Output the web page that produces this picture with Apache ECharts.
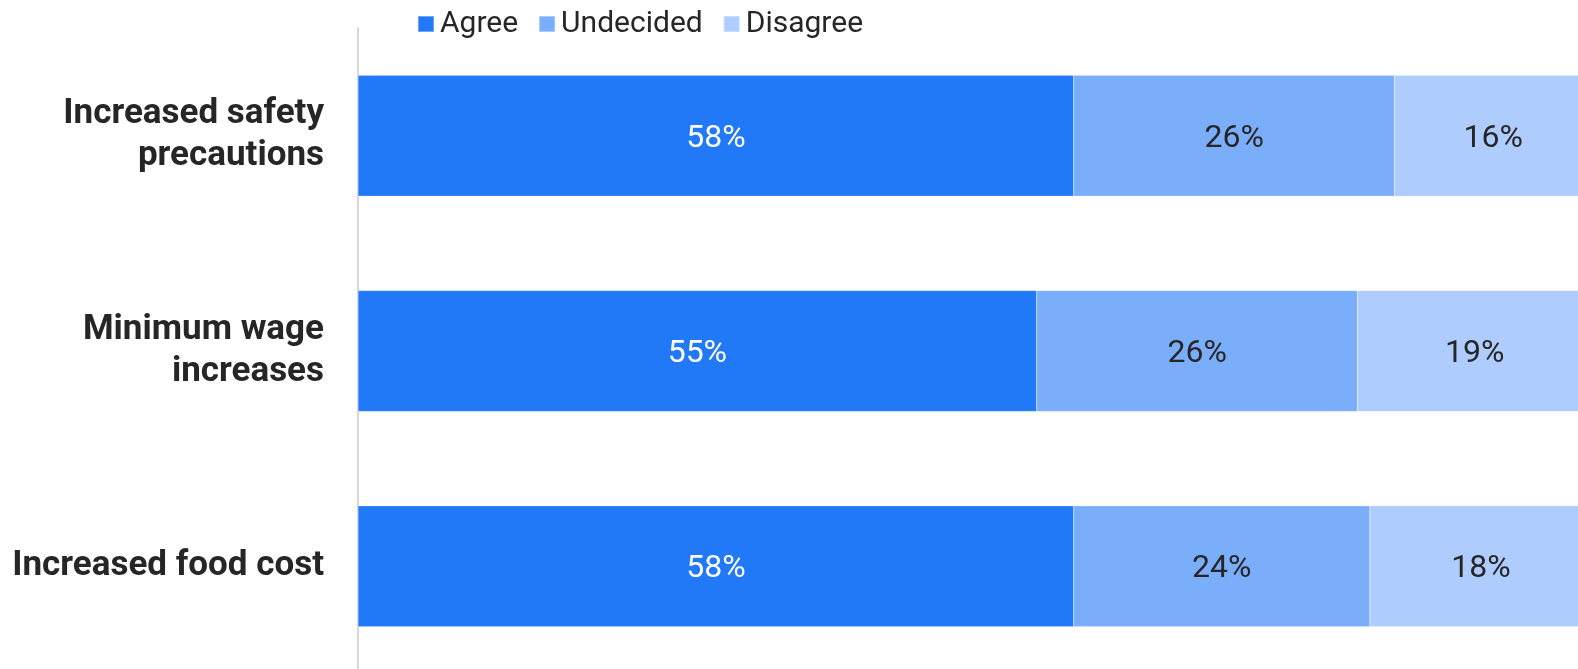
<!DOCTYPE html>
<html>
<head>
<meta charset="utf-8">
<script src="https://cdn.jsdelivr.net/npm/echarts@6/dist/echarts.min.js"></script>
<style>
  html, body { margin: 0; padding: 0; background: #ffffff; }
  #chart { width: 1578px; height: 669px; }
</style>
</head>
<body>
<div id="chart"></div>
<script>
// Survey responses per topic (percent)
const categories = ['Increased safety\nprecautions', 'Minimum wage\nincreases', 'Increased food cost'];
const seriesNames = ['Agree', 'Undecided', 'Disagree'];
const agree = [58, 55, 58];
const undecided = [26, 26, 24];
const disagree = [16, 19, 18];

const colors = ['#2179F8', '#7BAEFA', '#AECCFD'];
const labelColors = ['#ffffff', '#262626', '#262626'];
const values = [agree, undecided, disagree];
const fontFamily = 'Roboto, "Liberation Sans", Arial, sans-serif';

const chart = echarts.init(document.getElementById('chart'));
chart.setOption({
  animation: false,
  legend: {
    top: 4,
    left: 412,
    itemWidth: 16,
    itemHeight: 16,
    itemGap: 20,
    icon: 'rect',
    textStyle: { fontSize: 30, color: '#262626', fontFamily: fontFamily, padding: [0, 0, 0, 1] },
    data: seriesNames
  },
  // the 100% end of the scale runs slightly past the right edge of the canvas
  grid: { left: 358, width: 1234, top: 28, bottom: -5, containLabel: false, outerBoundsMode: 'none' },
  xAxis: {
    type: 'value',
    min: 0,
    max: 100,
    show: false
  },
  yAxis: {
    type: 'category',
    inverse: true,
    data: categories,
    axisLine: { show: true, lineStyle: { color: '#d9d9d9', width: 2 } },
    axisTick: { show: false },
    axisLabel: {
      margin: 34,
      fontSize: 35,
      fontWeight: 'bold',
      color: '#262626',
      lineHeight: 42,
      align: 'right',
      padding: [17, 0, 0, 0],
      fontFamily: fontFamily
    }
  },
  series: seriesNames.map((name, i) => ({
    name: name,
    type: 'bar',
    stack: 'total',
    barWidth: 121,
    data: values[i],
    itemStyle: { color: colors[i], borderColor: 'rgba(255,255,255,0.35)', borderWidth: 0.5 },
    label: {
      show: true,
      position: 'inside',
      offset: [0, 3],
      formatter: '{c}%',
      fontSize: 32,
      color: labelColors[i],
      fontFamily: fontFamily
    }
  }))
});
</script>
</body>
</html>
